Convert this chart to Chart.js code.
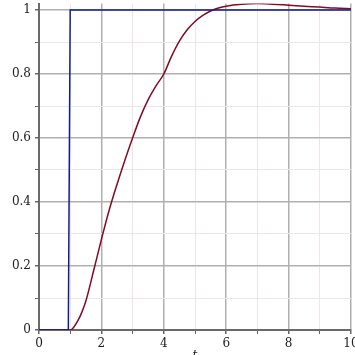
<!DOCTYPE html>
<html lang="en">
<head>
  <meta charset="UTF-8" />
  <title>Step response</title>
  <script src="https://cdn.jsdelivr.net/npm/chart.js"></script>
  <style>
    html, body {
      margin: 0;
      padding: 0;
      background: white;
      overflow: hidden;
    }
    #wrap {
      position: relative;
      width: 355px;
      height: 355px;
    }
  </style>
</head>
<body>
  <div id="wrap"><canvas id="plot"></canvas></div>

  <script>
    // input: unit step
    const stepT = [0, 0.94, 1, 10];
    const stepY = [0, 0, 1, 1];

    // output response
    const respT = [0, 1, 1.25, 1.5, 1.75, 2, 2.25, 2.5, 2.75, 3, 3.25, 3.5, 3.75, 4,
                   4.25, 4.5, 4.75, 5, 5.25, 5.5, 5.75, 6, 6.5, 7, 7.5, 8, 8.5, 9, 9.5, 10];
    const respY = [0, 0, 0.03, 0.09, 0.185, 0.283, 0.375, 0.455, 0.53, 0.6, 0.666, 0.72, 0.763, 0.8,
                   0.856, 0.903, 0.938, 0.964, 0.983, 0.997, 1.006, 1.012, 1.018, 1.02, 1.018, 1.015,
                   1.012, 1.009, 1.006, 1.004];

    const xMajor = [0, 2, 4, 6, 8, 10];
    const yMajor = [0, 0.2, 0.4, 0.6, 0.8, 1];

    const isMajorX = v => xMajor.includes(Math.round(v));
    const isMajorY = v => yMajor.includes(Math.round(v * 10) / 10);

    const serif = { family: 'DejaVu Serif', size: 12 };

    new Chart(document.getElementById('plot').getContext('2d'), {
      type: 'line',
      data: {
        datasets: [
          {
            label: 'step',
            data: stepT.map((t, i) => ({ x: t, y: stepY[i] })),
            borderColor: 'rgb(20, 28, 140)',
            borderWidth: 1.5,
            pointRadius: 0,
            tension: 0
          },
          {
            label: 'response',
            data: respT.map((t, i) => ({ x: t, y: respY[i] })),
            borderColor: 'rgb(130, 10, 35)',
            borderWidth: 1.5,
            pointRadius: 0,
            cubicInterpolationMode: 'monotone'
          }
        ]
      },
      options: {
        responsive: true,
        maintainAspectRatio: false,
        animation: false,
        layout: { padding: { left: 0, top: 3.6, right: 4, bottom: 0 } },
        plugins: { legend: { display: false }, tooltip: { enabled: false } },
        scales: {
          x: {
            type: 'linear',
            min: 0,
            max: 10,
            ticks: {
              stepSize: 1,
              includeBounds: false,
              maxRotation: 0,
              autoSkip: false,
              padding: 3,
              color: '#222',
              font: serif,
              callback: v => isMajorX(v) ? String(Math.round(v)) : ''
            },
            grid: {
              color: c => isMajorX(c.tick.value) ? '#b0b0b0' : '#ece6ea',
              lineWidth: c => isMajorX(c.tick.value) ? 1.5 : 1,
              tickColor: '#666',
              tickLength: 4
            },
            border: { color: '#6a6a6a', width: 2 },
            title: {
              display: true,
              text: 't',
              color: '#222',
              font: { family: 'DejaVu Serif', size: 12, style: 'italic' },
              padding: { top: 0, bottom: -8 }
            },
            afterFit: s => { s.height = 25; s.paddingLeft = 0; s.paddingRight = 0; }
          },
          y: {
            min: 0,
            max: 1.02,
            ticks: {
              stepSize: 0.1,
              includeBounds: false,
              autoSkip: false,
              padding: 4,
              color: '#222',
              font: serif,
              callback: v => isMajorY(v) ? String(Math.round(v * 10) / 10) : ''
            },
            grid: {
              color: c => isMajorY(c.tick.value) ? '#b0b0b0' : '#ece6ea',
              lineWidth: c => isMajorY(c.tick.value) ? 1.5 : 1,
              tickColor: '#666',
              tickLength: 4
            },
            border: { color: '#6a6a6a', width: 2 },
            afterFit: s => { s.width = 39; s.paddingTop = 0; s.paddingBottom = 0; }
          }
        }
      }
    });
  </script>
</body>
</html>
